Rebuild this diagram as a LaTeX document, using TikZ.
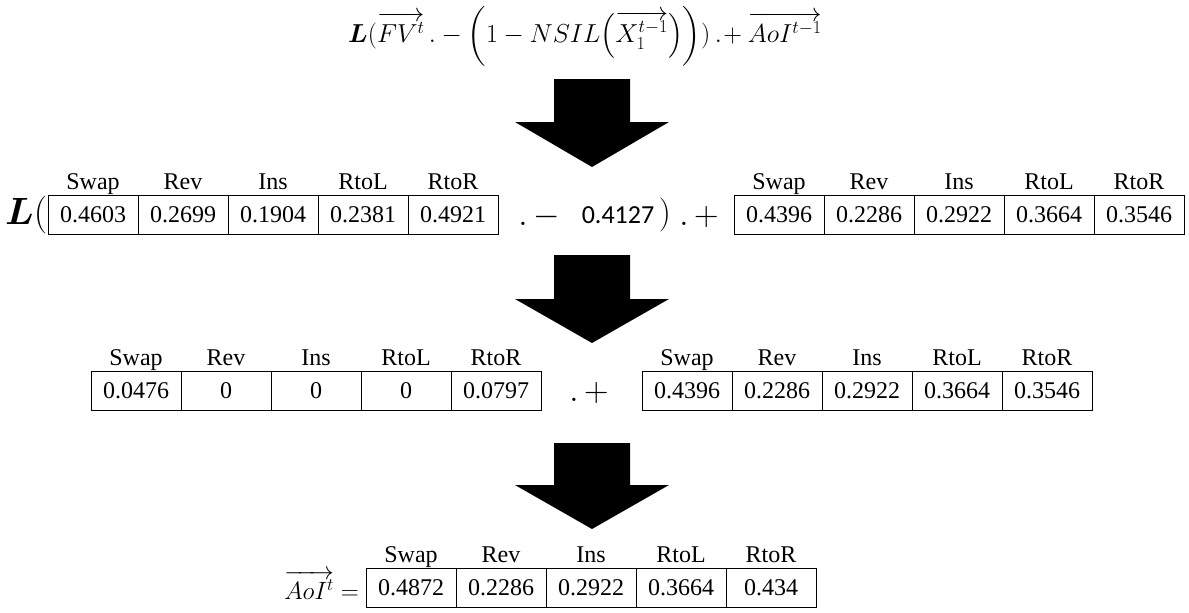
\RequirePackage{fix-cm}
\documentclass[tikz,border=0pt]{standalone}
\usepackage{amsmath}
\usepackage{fontspec}
\setmainfont{Liberation Serif}
\newfontfamily\calib{Carlito}
\newcommand\mytable[8]{%
 \foreach \h/\v [count=\i from 0] in {Swap/#4,Rev/#5,Ins/#6,RtoL/#7,RtoR/#8}{%
   \node[cell] (#1\i) at ({#2+45+90*\i},{#3+19.5}) {\v};
   \node[hdr] (#1h\i) at ({#2+45+90*\i},{#3-6}) {\h};
 }}
\newcommand\bigdown[3]{% top of shaft, head start, tip
 \fill (554,#1) -- (630,#1) -- (630,#2) -- (669,#2) -- (592,#3) -- (515,#2) -- (554,#2) -- cycle;}
\begin{document}
\begin{tikzpicture}[x=1pt,y=-1pt,
 cell/.style={draw,line width=1pt,minimum width=90pt,minimum height=39pt,inner sep=0pt,
   font=\fontsize{24}{28}\selectfont,text height=16pt,text depth=0pt},
 hdr/.style={anchor=base,font=\fontsize{24}{28}\selectfont,inner sep=0pt},
 op/.style={inner sep=0pt,font=\fontsize{34}{38}\selectfont},
 num/.style={inner sep=0pt,font=\calib\fontsize{26}{30}\selectfont}]
\useasboundingbox (0,0) rectangle (1189,613);
% top formula
\node[inner sep=0pt,font=\fontsize{26}{30}\selectfont] (f) at (585,36)
 {$\boldsymbol{L}(\overrightarrow{FV^{t}}\,.-\biggl(1-NSIL\Bigl(\overrightarrow{X_1^{t-1}}\Bigr)\biggr))\,.\!+\overrightarrow{AoI^{t-1}}$};
\bigdown{79}{122}{167}
% row 1
\node[inner sep=0pt,font=\fontsize{38}{42}\selectfont,anchor=west] (L) at (5,215) {$\boldsymbol{L}($};
\mytable{a}{48}{195}{0.4603}{0.2699}{0.1904}{0.2381}{0.4921}
\node[op] (m1) at (539,217) {$.\,-$};
\node[num] (k) at (618,215) {0.4127};
\node[op] (p1) at (665,215) {$)$};
\node[op] (pl1) at (699,217) {$.\,+$};
\mytable{b}{734}{195}{0.4396}{0.2286}{0.2922}{0.3664}{0.3546}
\bigdown{255}{299}{343}
% row 2
\mytable{c}{91}{371}{0.0476}{0}{0}{0}{0.0797}
\node[op] (pl2) at (589,393) {$.\,+$};
\mytable{d}{642}{371}{0.4396}{0.2286}{0.2922}{0.3664}{0.3546}
\bigdown{443}{485}{529}
% row 3
\node[inner sep=0pt,font=\fontsize{25}{28}\selectfont,anchor=east] (A) at (359,585) {$\overrightarrow{AoI^{t}}=$};
\mytable{e}{366}{568}{0.4872}{0.2286}{0.2922}{0.3664}{0.434}
\end{tikzpicture}
\end{document}
